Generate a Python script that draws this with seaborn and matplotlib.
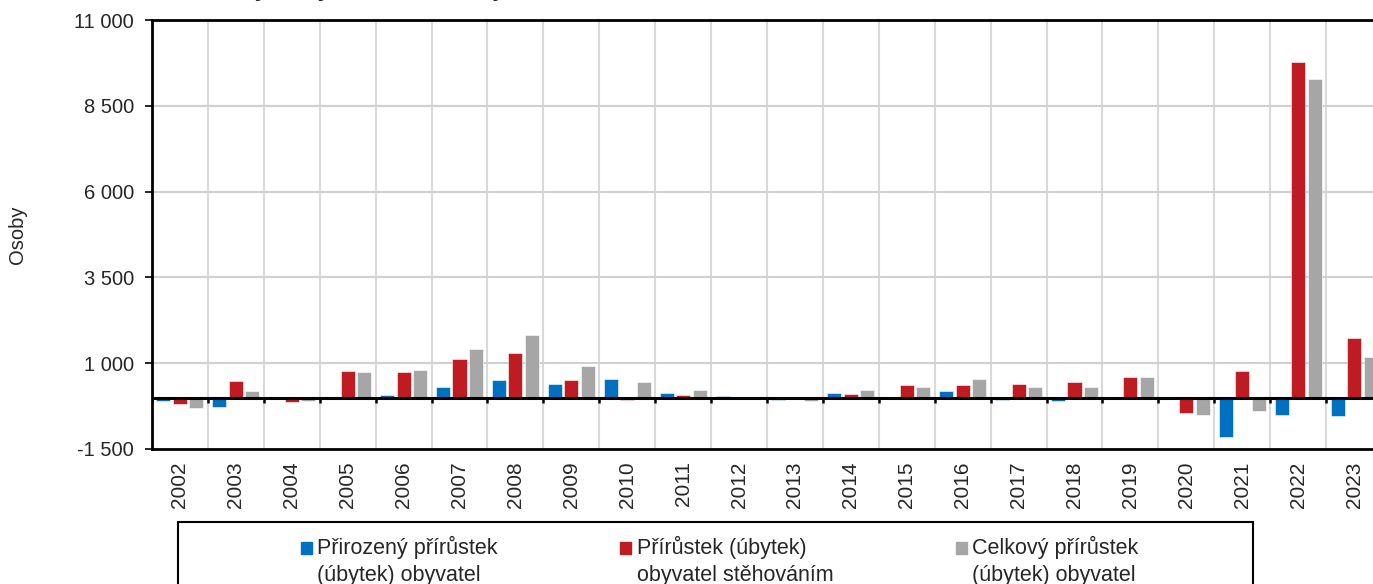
import matplotlib
matplotlib.use("Agg")
import matplotlib.pyplot as plt
import numpy as np
import pandas as pd
import seaborn as sns
from matplotlib.patches import Rectangle
from matplotlib.legend_handler import HandlerPatch

# data (osoby)
years = [str(y) for y in range(2002, 2024)]
prirozeny = [-100, -270, 0, 0, 70, 310, 515, 400, 535, 135, 30, -80,
             130, 0, 195, -70, -110, 0, -20, -1145, -495, -550]
stehovani = [-190, 480, -120, 770, 750, 1130, 1310, 525, -80, 80, 0, 0,
             90, 360, 360, 390, 450, 595, -455, 780, 9780, 1735]
celkovy = [-310, 195, -110, 740, 800, 1420, 1820, 915, 450, 225, 0, -100,
           225, 310, 550, 310, 320, 600, -515, -380, 9280, 1180]

series_labels = ["Přirozený přírůstek\n(úbytek) obyvatel",
                 "Přírůstek (úbytek)\nobyvatel stěhováním",
                 "Celkový přírůstek\n(úbytek) obyvatel"]
colors = ["#0070C0", "#BE1B23", "#A6A6A6"]
yticks = [-1500, 1000, 3500, 6000, 8500, 11000]

df = pd.DataFrame({
    "rok": years * 3,
    "hodnota": prirozeny + stehovani + celkovy,
    "ukazatel": np.repeat(series_labels, len(years)),
})

sns.set_style("white")
plt.rcParams["font.family"] = ["Liberation Sans", "DejaVu Sans"]

fig = plt.figure(figsize=(13.73, 5.84), dpi=100)
W, H = 1373, 584
ax = fig.add_axes([152 / W, 1 - 449 / H, 1230 / W, 429 / H])

sns.barplot(data=df, x="rok", y="hodnota", hue="ukazatel", palette=colors,
            saturation=1, width=0.885, gap=0.15, ax=ax, legend=False,
            zorder=3, edgecolor="white", linewidth=0.4)

n = len(years)
bounds = np.arange(n + 1) - 0.5
ax.set_xlim(-0.5, n - 0.5)
ax.set_ylim(yticks[0], yticks[-1])

# grid
for b in bounds[1:-1]:
    ax.axvline(b, color="#D9D9D9", lw=1.5, zorder=1)
for t in yticks[1:-1]:
    ax.axhline(t, color="#D0D0D0", lw=1.5, zorder=1)

# zero axis with ticks at category boundaries
ax.axhline(0, color="black", lw=2.2, zorder=4)
ax.vlines(bounds, -150, 0, color="black", lw=1.8, zorder=4)

ax.set_yticks(yticks)
ax.set_yticklabels([f"{t:,}".replace(",", " ") for t in yticks], fontsize=14.5)
ax.set_xticks(range(n))
ax.set_xticklabels(years, rotation=90, fontsize=15)
ax.tick_params(axis="x", length=0, pad=9)
ax.tick_params(axis="y", length=5, width=1.2, color="black", pad=8, left=True)

ax.set_xlabel("")
ax.set_ylabel("Osoby", fontsize=14.5, labelpad=34)

for side in ["left", "bottom", "top"]:
    ax.spines[side].set_visible(True)
    ax.spines[side].set_color("black")
    ax.spines[side].set_linewidth(2)
ax.spines["right"].set_visible(False)


def top_square(legend, orig_handle, xdescent, ydescent, width, height, fontsize):
    # square marker aligned with the first text line
    return Rectangle((-xdescent, -ydescent + 0.6 * fontsize), width, height)


# legend box
fig.patches.append(Rectangle((178 / W, -0.1), (1253 - 178) / W, 0.1 + 1 - 522 / H,
                             transform=fig.transFigure, fill=False,
                             edgecolor="black", lw=1.5))
handles = [plt.Rectangle((0, 0), 1, 1, color=c) for c in colors]
leg = fig.legend(handles, series_labels, loc="upper left", ncol=3,
                 bbox_to_anchor=(301 / W, 1 - 536 / H), frameon=False,
                 fontsize=15.5, handlelength=0.5, handleheight=0.5,
                 handletextpad=0.25, columnspacing=5.7, borderaxespad=0,
                 borderpad=0, labelspacing=0,
                 handler_map={Rectangle: HandlerPatch(patch_func=top_square)})
for t in leg.get_texts():
    t.set_linespacing(1.35)

# cropped title (only descenders visible in the reference)
fig.text(210 / W, 1 + 4 / H, "Pohyb obyvatelstva v kraji", fontsize=17,
         fontweight="bold", va="baseline", ha="left")

fig.savefig("out.png", dpi=100)
